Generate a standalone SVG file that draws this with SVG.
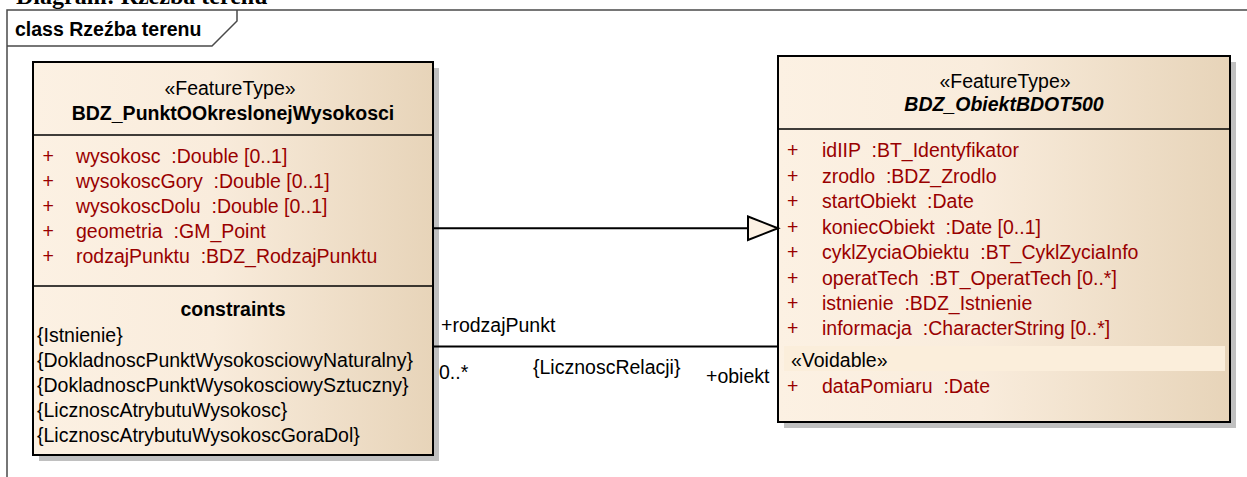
<svg xmlns="http://www.w3.org/2000/svg" width="1247" height="477" viewBox="0 0 1247 477">
<style>
text{font-family:"Liberation Sans",Arial,sans-serif;font-size:19.5px;fill:#000}
.b{font-weight:bold}
.bi{font-weight:bold;font-style:italic}
.at{fill:#990000;white-space:pre}
.c{text-anchor:middle}
.box{fill:url(#cream);stroke:#000;stroke-width:2}
.sh{fill:#c0c0c0}
.div{stroke:#000;stroke-width:1.5}
.frame{fill:none;stroke:#4a4a4a;stroke-width:1.5}
.conn{stroke:#000;stroke-width:2;fill:none}
.title{font-family:"Liberation Serif","Times New Roman",serif;font-size:24px;font-weight:bold}
</style>
<defs>
<linearGradient id="cream" x1="0" y1="0" x2="1" y2="0">
<stop offset="0" stop-color="#fcf1e3"/>
<stop offset="0.45" stop-color="#f9ecdc"/>
<stop offset="1" stop-color="#e7d4b9"/>
</linearGradient>
</defs>
<rect width="1247" height="477" fill="#fff"/>
<text class="title" x="16" y="4">Diagram: Rzeźba terenu</text>
<g id="frame">
<path class="frame" d="M7,477 V10 H1247"/>
<path class="frame" d="M7,46 H212 L237,21 V10"/>
<text class="b" x="15" y="36">class Rzeźba terenu</text>
</g>
<g id="BDZ_PunktOOkreslonejWysokosci" xml:space="preserve">
<rect class="sh" x="39" y="68" width="400" height="393"/>
<rect class="box" x="33" y="62" width="400" height="393"/>
<line class="div" x1="33" y1="135" x2="433" y2="135"/>
<line class="div" x1="33" y1="286" x2="433" y2="286"/>
<text class="c" x="230" y="95">«FeatureType»</text>
<text class="b c" x="233" y="120">BDZ_PunktOOkreslonejWysokosci</text>
<text class="at" x="42.5" y="163">+</text><text class="at" x="76" y="163">wysokosc  :Double [0..1]</text>
<text class="at" x="42.5" y="188">+</text><text class="at" x="76" y="188">wysokoscGory  :Double [0..1]</text>
<text class="at" x="42.5" y="213">+</text><text class="at" x="76" y="213">wysokoscDolu  :Double [0..1]</text>
<text class="at" x="42.5" y="238">+</text><text class="at" x="76" y="238">geometria  :GM_Point</text>
<text class="at" x="42.5" y="263">+</text><text class="at" x="76" y="263">rodzajPunktu  :BDZ_RodzajPunktu</text>
<text class="b c" x="233" y="316">constraints</text>
<text x="37" y="342">{Istnienie}</text>
<text x="37" y="367">{DokladnoscPunktWysokosciowyNaturalny}</text>
<text x="37" y="392">{DokladnoscPunktWysokosciowySztuczny}</text>
<text x="37" y="417">{LicznoscAtrybutuWysokosc}</text>
<text x="37" y="442">{LicznoscAtrybutuWysokoscGoraDol}</text>
</g>
<g id="BDZ_ObiektBDOT500" xml:space="preserve">
<rect class="sh" x="784" y="62" width="452" height="366"/>
<rect class="box" x="778" y="56" width="452" height="366"/>
<line class="div" x1="778" y1="129" x2="1230" y2="129"/>
<text class="c" x="1005" y="88">«FeatureType»</text>
<text class="bi c" x="1004" y="111">BDZ_ObiektBDOT500</text>
<text class="at" x="787" y="157">+</text><text class="at" x="822" y="157">idIIP  :BT_Identyfikator</text>
<text class="at" x="787" y="182.5">+</text><text class="at" x="822" y="182.5">zrodlo  :BDZ_Zrodlo</text>
<text class="at" x="787" y="208">+</text><text class="at" x="822" y="208">startObiekt  :Date</text>
<text class="at" x="787" y="233.5">+</text><text class="at" x="822" y="233.5">koniecObiekt  :Date [0..1]</text>
<text class="at" x="787" y="259">+</text><text class="at" x="822" y="259">cyklZyciaObiektu  :BT_CyklZyciaInfo</text>
<text class="at" x="787" y="284.5">+</text><text class="at" x="822" y="284.5">operatTech  :BT_OperatTech [0..*]</text>
<text class="at" x="787" y="310">+</text><text class="at" x="822" y="310">istnienie  :BDZ_Istnienie</text>
<text class="at" x="787" y="335">+</text><text class="at" x="822" y="335">informacja  :CharacterString [0..*]</text>
<rect x="784" y="346" width="441" height="25" fill="#fbeedb"/>
<text x="791" y="367">«Voidable»</text>
<text class="at" x="787" y="392.5">+</text><text class="at" x="822" y="392.5">dataPomiaru  :Date</text>
</g>
<g id="connectors">
<line class="conn" x1="433" y1="228.3" x2="748" y2="228.3"/>
<polygon points="748,216.5 778,228.3 748,240" fill="#fcf1e3" stroke="#000" stroke-width="2" stroke-linejoin="miter"/>
<line class="conn" x1="433" y1="346.5" x2="778" y2="346.5"/>
<text x="441" y="332">+rodzajPunkt</text>
<text x="439" y="379">0..*</text>
<text x="533" y="374">{LicznoscRelacji}</text>
<text x="706" y="383">+obiekt</text>
</g>
</svg>
